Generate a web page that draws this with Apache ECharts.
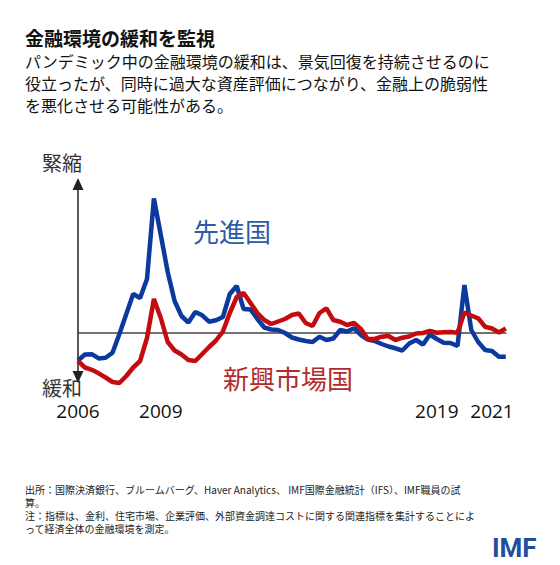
<!DOCTYPE html>
<html><head><meta charset="utf-8">
<script src="https://cdn.jsdelivr.net/npm/echarts@6/dist/echarts.min.js"></script>
<style>html,body{margin:0;padding:0;background:#fff}#c{width:560px;height:565px}</style>
</head><body><div id="c"></div>
<script>
// quarterly categories 2006Q1 .. 2021Q3
const categories = [];
for (let y = 2006; y <= 2021; y++) for (let q = 1; q <= 4; q++) { if (categories.length < 63) categories.push(y + 'Q' + q); }
const yearTickLabels = ['2006', '2009', '2019', '2021'];

// financial conditions index (+ = tightening)
const advancedEconomies = [
  -2.8, -2.2, -2.17, -2.59, -2.53, -2.02, -0.15, 1.85, 3.85, 3.45,
  5.35, 13.4, 9.75, 6.05, 3.15, 1.65, 1.0, 2.05, 1.72, 1.08,
  1.22, 1.55, 3.85, 4.65, 2.35, 2.3, 1.35, 0.5, 0.3, 0.25,
  -0.05, -0.5, -0.7, -0.85, -0.95, -0.42, -0.75, -0.6, 0.25, 0.1,
  0.42, -0.25, -0.7, -0.85, -1.15, -1.4, -1.58, -1.8, -1.1, -0.75,
  -1.2, -0.2, -0.65, -1.02, -1.05, -1.35, 4.75, 0.25, -0.95, -1.75,
  -1.85, -2.42, -2.42
];
const emergingMarkets = [
  -2.85, -3.5, -3.73, -4.08, -4.5, -4.95, -5.05, -4.35, -3.5, -2.85,
  -0.55, 3.35, 1.45, -0.95, -1.8, -2.2, -2.75, -2.85, -2.15, -1.45,
  -0.8, 0.1, 1.95, 3.55, 3.95, 2.95, 1.95, 1.25, 0.85, 1.1,
  1.35, 1.75, 1.9, 0.95, 0.65, 1.95, 2.42, 1.25, 1.08, 0.75,
  0.95, 0.35, -0.65, -0.65, -0.42, -0.35, -0.75, -0.52, -0.4, -0.1,
  -0.05, 0.15, -0.02, 0.02, 0.05, -0.02, 2.0, 1.7, 1.42, 0.58,
  0.4, 0.0, 0.42
];

const footerLines = [
  '出所：国際決済銀行、ブルームバーグ、Haver Analytics、 IMF国際金融統計（IFS）、IMF職員の試',
  '算。',
  '注：指標は、金利、住宅市場、企業評価、外部資金調達コストに関する関連指標を集計することによ',
  'って経済全体の金融環境を測定。'
];

const JP = '"Noto Sans CJK JP", "Noto Sans", sans-serif';
const footerTitles = footerLines.map((t, i) => ({
  text: t, left: 25, top: 483 + i * 13, padding: 0,
  textStyle: { fontFamily: JP, fontSize: 10, fontWeight: 'normal', color: '#222', lineHeight: 12 }
}));

const chart = echarts.init(document.getElementById('c'), null, { renderer: 'svg' });
chart.setOption({
  animation: false,
  backgroundColor: '#ffffff',
  title: [
    { text: '金融環境の緩和を監視', left: 25, top: 28, padding: 0,
      textStyle: { fontFamily: JP, fontSize: 19, fontWeight: 'bold', color: '#111' } },
    { text: 'パンデミック中の金融環境の緩和は、景気回復を持続させるのに\n役立ったが、同時に過大な資産評価につながり、金融上の脆弱性\nを悪化させる可能性がある。',
      left: 25, top: 50, padding: 0,
      textStyle: { fontFamily: JP, fontSize: 16, fontWeight: 'normal', color: '#111', lineHeight: 22 } },
    ...footerTitles,
    { text: 'IMF', left: 492, top: 535, padding: 0,
      textStyle: { fontFamily: 'Roboto, "Liberation Sans", sans-serif', fontSize: 26, fontWeight: 'bold', color: '#1d4f9e' } }
  ],
  grid: { left: 78, right: 54.2, top: 184, bottom: 188 },
  xAxis: [
    { type: 'category', data: categories, boundaryGap: false,
      axisLine: { show: true, onZero: true, lineStyle: { color: '#444', width: 1.5 } },
      axisTick: { show: false }, axisLabel: { show: false }, splitLine: { show: false } },
    { type: 'category', data: categories, boundaryGap: false, position: 'bottom',
      axisLine: { show: false, onZero: false }, axisTick: { show: false }, splitLine: { show: false },
      axisLabel: { show: true, margin: 24, color: '#111', fontSize: 19, fontFamily: '"Open Sans", "Noto Sans", sans-serif',
        interval: (i, v) => v.endsWith('Q1') && yearTickLabels.includes(v.slice(0, 4)),
        formatter: v => v.slice(0, 4) } }
  ],
  yAxis: {
    type: 'value', min: -4.45, max: 14.85,
    axisLine: { show: true, onZero: false, symbol: ['triangle', 'triangle'], symbolSize: [11, 12],
      lineStyle: { color: '#222', width: 1.5 } },
    axisTick: { show: false }, axisLabel: { show: false }, splitLine: { show: false }
  },
  series: [
    { name: '先進国', type: 'line', data: advancedEconomies, symbol: 'none', clip: false,
      lineStyle: { color: '#0a3a9e', width: 4.5 } },
    { name: '新興市場国', type: 'line', data: emergingMarkets, symbol: 'none', clip: false,
      lineStyle: { color: '#c40c10', width: 4.5 } }
  ],
  graphic: [
    { type: 'text', x: 62, y: 162, style: { text: '緊縮', fontFamily: JP, fontSize: 20, fill: '#333', align: 'center', verticalAlign: 'middle' } },
    { type: 'text', x: 62, y: 387, style: { text: '緩和', fontFamily: JP, fontSize: 20, fill: '#333', align: 'center', verticalAlign: 'middle' } },
    { type: 'text', x: 232, y: 230, style: { text: '先進国', fontFamily: JP, fontSize: 26, fill: '#2d5ba6', align: 'center', verticalAlign: 'middle' } },
    { type: 'text', x: 288, y: 377, style: { text: '新興市場国', fontFamily: JP, fontSize: 26, fill: '#b32a2a', align: 'center', verticalAlign: 'middle' } }
  ]
});
</script>
</body></html>
